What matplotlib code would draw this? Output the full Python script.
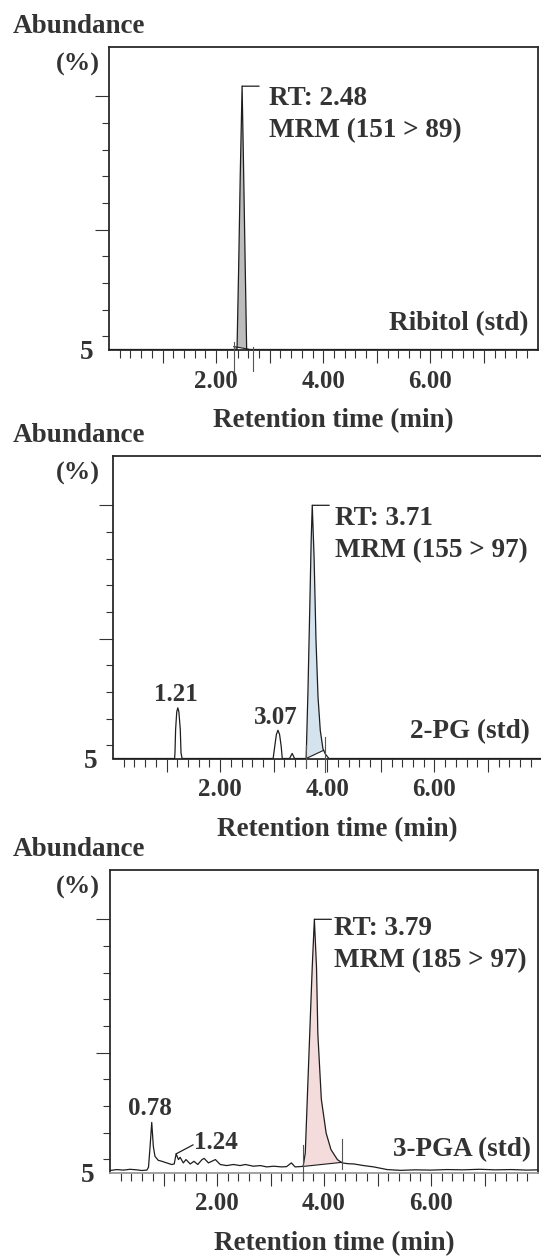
import numpy as np
import matplotlib
matplotlib.use("Agg")
import matplotlib.pyplot as plt

W, H = 541, 1259
plt.rcParams['font.family'] = ['Liberation Serif', 'DejaVu Serif']
plt.rcParams['font.weight'] = 'bold'

TXT = '#333333'
LINE = '#1e1e1e'

# ---- data (time in min, abundance in %) ----
rib_t = [0.0, 2.39, 2.42, 2.45, 2.485, 2.51, 2.54, 2.57, 8.0]
rib_a = [5.0, 5.0, 35.0, 70.0, 103.8, 76.0, 40.0, 5.0, 5.0]

pg_t = [0.0, 1.15, 1.157, 1.169, 1.19, 1.21, 1.23, 1.256, 1.27, 1.29,
        2.99, 3.02, 3.05, 3.08, 3.11, 3.14, 3.16, 3.295, 3.345, 3.39,
        3.606, 3.64, 3.674, 3.70, 3.72, 3.754, 3.79, 3.828, 3.87, 3.92,
        3.964, 4.03, 8.0]
pg_a = [5.0, 5.0, 7.1, 15.9, 22.5, 24.0, 22.5, 15.9, 7.1, 5.0,
        5.0, 9.6, 14.0, 15.6, 14.0, 9.6, 5.0, 5.0, 6.9, 5.0,
        5.0, 30.5, 61.8, 86.9, 100.0, 80.6, 49.3, 28.0, 15.5, 8.6,
        6.7, 5.0, 5.0]

pga_t = [0.0, 0.125, 0.25, 0.375, 0.5, 0.59, 0.69, 0.72, 0.75, 0.78,
         0.81, 0.84, 0.90, 0.97, 1.06, 1.15, 1.20, 1.236, 1.28, 1.31,
         1.37, 1.42, 1.50, 1.57, 1.64, 1.72, 1.76, 1.84, 1.97, 2.06,
         2.18, 2.31, 2.43, 2.53, 2.68, 2.81, 2.93, 3.06, 3.21, 3.30,
         3.39, 3.46, 3.61, 3.65, 3.71, 3.78, 3.82, 3.86, 3.885, 3.95,
         4.04, 4.13, 4.25, 4.34, 4.45, 4.56, 4.74, 4.93, 5.18, 5.43,
         5.7, 6.0, 6.3, 6.6, 6.9, 7.2, 7.5, 7.8, 8.0]
pga_a = [5.75, 6.1, 5.9, 6.2, 6.0, 5.75, 5.9, 7.0, 15.0, 23.8,
         14.8, 11.1, 9.6, 9.2, 8.6, 8.0, 8.2, 12.0, 9.85, 10.7,
         8.6, 9.85, 8.2, 9.2, 8.0, 9.85, 10.3, 8.6, 9.85, 8.0,
         7.6, 8.0, 7.6, 8.0, 7.36, 7.6, 7.1, 7.36, 7.1, 7.2,
         8.6, 7.1, 7.3, 12.3, 44.7, 82.0, 100.0, 82.0, 57.0, 32.5,
         19.8, 13.6, 9.85, 8.6, 8.3, 8.2, 7.6, 7.1, 6.1, 5.8,
         6.0, 5.9, 6.1, 6.0, 6.2, 6.0, 6.1, 5.9, 6.0]

names = ['Ribitol (std)', '2-PG (std)', '3-PGA (std)']
rts = ['2.48', '3.71', '3.79']
mrms = ['MRM (151 > 89)', 'MRM (155 > 97)', 'MRM (185 > 97)']
apex_t = [2.485, 3.72, 3.82]
apex_a = [103.8, 100.0, 100.0]

# integration baseline (start/end) and marker ticks
base_t = [[2.33, 2.61], [3.606, 3.935], [3.62, 4.33]]
base_a = [[6.1, 5.1], [5.0, 8.1], [7.3, 8.8]]
mark_t = [[2.33, 2.68], [3.594, 3.95], [3.61, 4.34]]
mark_top = [[7.7, 6.0], [10.0, 13.0], [15.4, 17.5]]
mark_bot = [[-3.0, -3.0], [1.5, 0.0], [3.0, 6.4]]

# labelled minor peaks
pg_peaks_t = [1.21, 3.08]
pg_peaks_a = [24.0, 15.6]
pg_peaks_lab = ['1.21', '3.07']
pga_peaks_t = [0.78]
pga_peaks_a = [23.8]
pga_peaks_lab = ['0.78']

traces = [(rib_t, rib_a), (pg_t, pg_a), (pga_t, pga_a)]
fills = ['#bcbcbc', '#d5e3ef', '#f5dcdc']
# axes boxes in pixels: left, top, right, bottom
boxes = [(109, 47, 537.5, 349.5), (113, 456, 541.5, 758.5), (110, 870, 538, 1172.5)]
rt_off = [(27, -19), (23, -19.5), (19.5, -15.7)]
lab_off = [(9, 19.5), (12, 20), (7, 16)]

fig = plt.figure(figsize=(W / 100, H / 100), dpi=100)
YMAX = 118.5


def ftext(x, y, s, **kw):
    fig.text(x / W, 1 - y / H, s, color=TXT, fontweight='bold', **kw)


axes = []
for i, (l, t, r, b) in enumerate(boxes):
    ax = fig.add_axes([l / W, 1 - b / H, (r - l) / W, (b - t) / H])
    axes.append(ax)
    tt, aa = traces[i]
    tt = np.array(tt)
    aa = np.array(aa)

    # shaded peak area
    t0, t1 = base_t[i]
    seg = (tt > t0) & (tt < t1)
    xs = np.concatenate([[t0], tt[seg], [t1]])
    ys = np.concatenate([[np.interp(t0, tt, aa)], aa[seg], [np.interp(t1, tt, aa)]])
    xs = np.concatenate([xs, [t1, t0]])
    ys = np.concatenate([ys, [base_a[i][1], base_a[i][0]]])
    ax.fill(xs, ys, color=fills[i], lw=0, zorder=1)
    ax.plot(base_t[i], base_a[i], color=LINE, lw=0.8, zorder=2)

    ax.plot(tt, aa, color=LINE, lw=0.9, zorder=3)

    for mt, mtop, mbot in zip(mark_t[i], mark_top[i], mark_bot[i]):
        ax.plot([mt, mt], [mbot, mtop], color='#555555', lw=0.8, clip_on=False, zorder=3)

    # RT leader + labels
    ax.annotate('', xy=(apex_t[i], apex_a[i]), xytext=(17, 0), textcoords='offset pixels',
                arrowprops=dict(arrowstyle='-', lw=0.9, color=LINE, shrinkA=0, shrinkB=0))
    dx, dy = rt_off[i]
    ax.annotate('RT: ' + rts[i], xy=(apex_t[i], apex_a[i]), xytext=(dx, dy),
                textcoords='offset pixels', ha='left', va='baseline',
                fontsize=19.5, color=TXT, fontweight='bold')
    ax.annotate(mrms[i], xy=(apex_t[i], apex_a[i]), xytext=(dx, dy - 32),
                textcoords='offset pixels', ha='left', va='baseline',
                fontsize=19.5, color=TXT, fontweight='bold')

    ox, oy = lab_off[i]
    ax.annotate(names[i], xy=(1, 0), xycoords='axes fraction', xytext=(-ox, oy),
                textcoords='offset pixels', ha='right', va='baseline',
                fontsize=19.5, color=TXT, fontweight='bold')

    ax.set_xlim(0, 8)
    ax.set_ylim(5, YMAX)
    ax.set_xticks([1, 2, 3, 4, 5, 6, 7])
    ax.set_xticklabels(['', '2.00', '', '4.00', '', '6.00', ''])
    ax.set_xticks([m / 5 for m in range(1, 40) if m % 5], minor=True)
    ax.set_yticks([5, 50, 100])
    ax.set_yticklabels(['5', '', ''])
    ax.set_yticks([10, 20, 30, 40, 60, 70, 80, 90], minor=True)
    ax.yaxis.get_major_ticks()[0].tick1line.set_visible(False)
    ax.tick_params(axis='x', which='major', direction='out', length=9.4, width=0.8,
                   pad=5, labelsize=18, colors=TXT)
    ax.tick_params(axis='x', which='minor', direction='out', length=5.8, width=0.8, colors=TXT)
    ax.tick_params(axis='y', which='major', direction='out', length=10, width=0.8,
                   pad=1.5, labelsize=19.5, colors=TXT)
    ax.tick_params(axis='y', which='minor', direction='out', length=5.4, width=0.8, colors=TXT)
    for lab in ax.get_xticklabels() + ax.get_yticklabels():
        lab.set_fontweight('bold')
    for sp in ax.spines.values():
        sp.set_linewidth(1.3)
        sp.set_color('#2a2a2a')

    ftext(13, t - 14, 'Abundance', fontsize=19.5, ha='left', va='baseline')
    ftext(100, t + 24, '(%)', fontsize=19, ha='right', va='baseline')
    ftext(334 + (l - 109.5), b + 78, 'Retention time (min)', fontsize=19.5,
          ha='center', va='baseline')

axes[2].spines['bottom'].set_color('#9a9a9a')

# minor peak labels
ax = axes[1]
for pt, pa, pl in zip(pg_peaks_t, pg_peaks_a, pg_peaks_lab):
    ax.annotate(pl, xy=(pt, pa), xytext=(-1.7, 6.5), textcoords='offset pixels',
                ha='center', va='baseline', fontsize=18, color=TXT, fontweight='bold')
ax = axes[2]
for pt, pa, pl in zip(pga_peaks_t, pga_peaks_a, pga_peaks_lab):
    ax.annotate(pl, xy=(pt, pa), xytext=(-1.5, 7.5), textcoords='offset pixels',
                ha='center', va='baseline', fontsize=18, color=TXT, fontweight='bold')
ax.annotate('', xy=(1.236, 12.0), xytext=(17, 9), textcoords='offset pixels',
            arrowprops=dict(arrowstyle='-', lw=0.9, color=LINE, shrinkA=0, shrinkB=0))
ax.annotate('1.24', xy=(1.236, 12.0), xytext=(18, 5), textcoords='offset pixels',
            ha='left', va='baseline', fontsize=18, color=TXT, fontweight='bold')

fig.savefig('out.png', dpi=100)
